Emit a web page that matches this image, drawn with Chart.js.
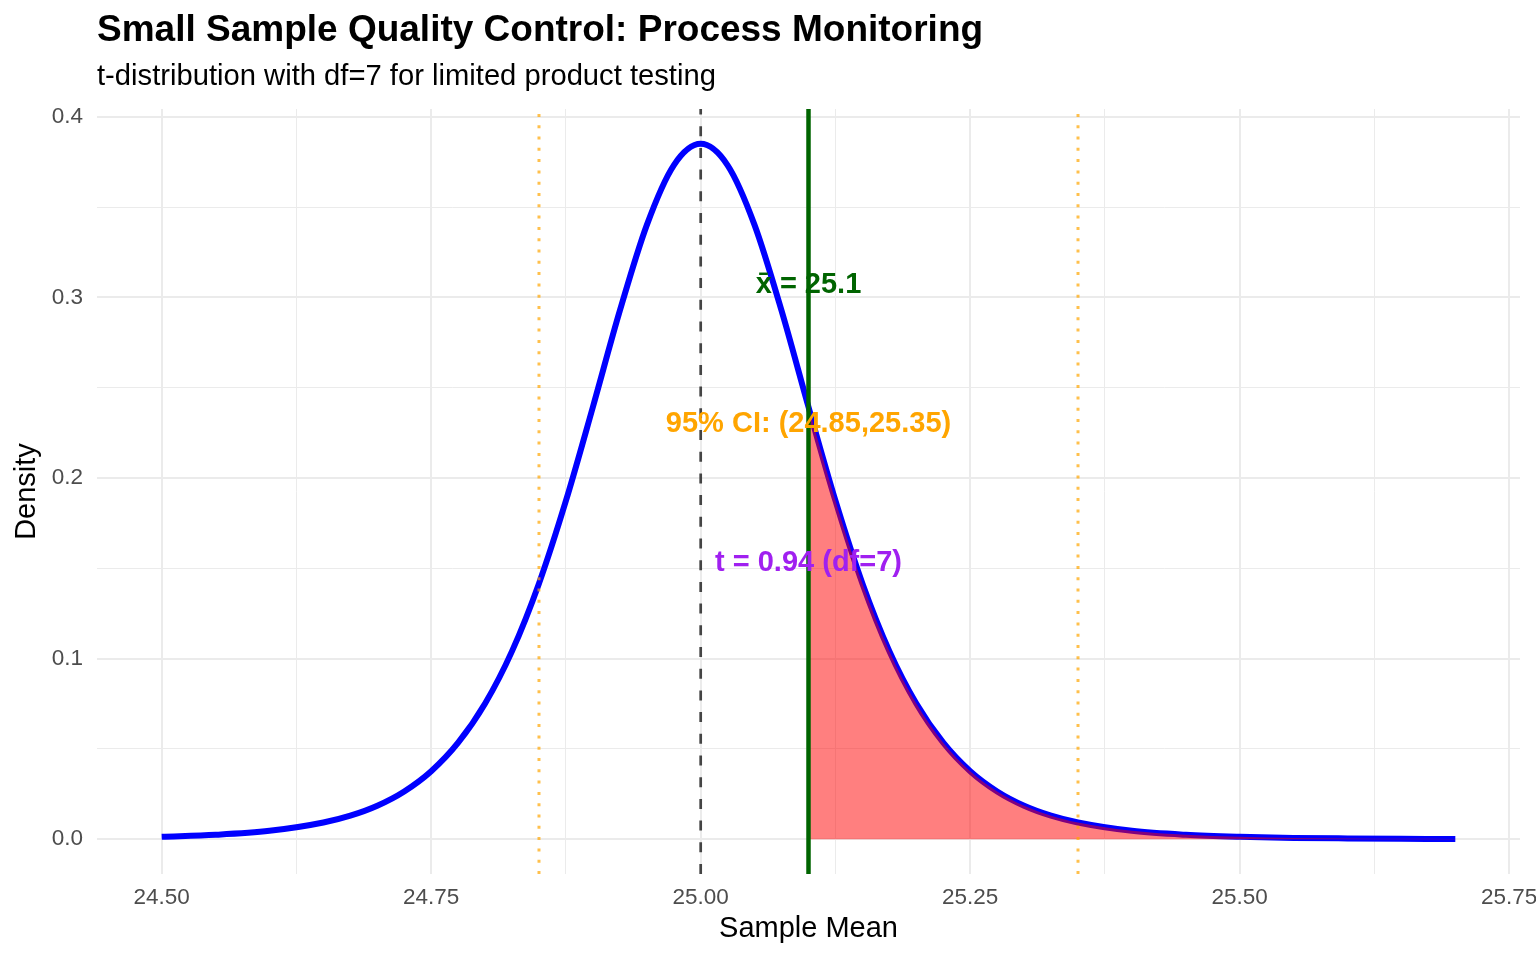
<!DOCTYPE html>
<html>
<head>
<meta charset="utf-8">
<script src="https://cdn.jsdelivr.net/npm/chart.js@4"></script>
<style>
  html, body { margin: 0; padding: 0; background: #ffffff; overflow: hidden; }
  #wrap { width: 1536px; height: 960px; position: relative; }
  canvas { display: block; }
</style>
</head>
<body>
<div id="wrap"><canvas id="c" width="1536" height="960"></canvas></div>
<script>
// ---------- DATA ----------
const chartTitle = "Small Sample Quality Control: Process Monitoring";
const chartSubtitle = "t-distribution with df=7 for limited product testing";
const xAxisTitle = "Sample Mean";
const yAxisTitle = "Density";

const sampleMeans = [24.50, 24.55, 24.60, 24.65, 24.675, 24.70, 24.725, 24.75, 24.775, 24.80,
  24.825, 24.85, 24.875, 24.90, 24.925, 24.95, 24.975, 25.00, 25.025, 25.05,
  25.075, 25.10, 25.125, 25.15, 25.175, 25.20, 25.225, 25.25, 25.275, 25.30,
  25.325, 25.35, 25.40, 25.45, 25.50, 25.55, 25.60, 25.65, 25.70];
const densities = [0.0013, 0.0024, 0.0046, 0.0092, 0.0130, 0.0185, 0.0264, 0.0376, 0.0534, 0.0751,
  0.1041, 0.1416, 0.1874, 0.2393, 0.2926, 0.3400, 0.3731, 0.3850, 0.3731, 0.3400,
  0.2926, 0.2393, 0.1874, 0.1416, 0.1041, 0.0751, 0.0534, 0.0376, 0.0264, 0.0185,
  0.0130, 0.0092, 0.0046, 0.0024, 0.0013, 0.0007, 0.0004, 0.0002, 0.0001];

const hypothesizedMean = 25.0;
const observedMean = 25.1;
const ciBounds = [24.85, 25.35];

const xMajorTicks = [24.50, 24.75, 25.00, 25.25, 25.50, 25.75];
const xMinorTicks = [24.625, 24.875, 25.125, 25.375, 25.625];
const yMajorTicks = [0.0, 0.1, 0.2, 0.3, 0.4];
const yMinorTicks = [0.05, 0.15, 0.25, 0.35];
const xRange = [24.44, 25.76];
const yRange = [-0.0193, 0.4043];

const annotationTexts = ["x\u0304 = 25.1", "95% CI: (24.85,25.35)", "t = 0.94 (df=7)"];
const annotationX = [25.1, 25.1, 25.1];
const annotationY = [0.308, 0.231, 0.154];
const annotationColors = ["#006400", "#FFA500", "#A020F0"];

// ---------- BUILD ----------
const FONT = "'Liberation Sans', Arial, Helvetica, sans-serif";
const curvePts = sampleMeans.map((x, i) => ({ x: x, y: densities[i] }));
const tailPts = curvePts.filter(p => p.x >= observedMean - 1e-9);
const vline = (x) => [{ x: x, y: yRange[0] }, { x: x, y: yRange[1] }];

const majorSetX = new Set(xMajorTicks.map(v => v.toFixed(3)));
const majorSetY = new Set(yMajorTicks.map(v => v.toFixed(3)));

const titlePlugin = {
  id: 'ggTitles',
  afterDraw(chart) {
    const ctx = chart.ctx;
    const left = chart.chartArea.left;
    ctx.save();
    ctx.fillStyle = '#000000';
    ctx.textAlign = 'left';
    ctx.textBaseline = 'alphabetic';
    ctx.font = "bold 37px " + FONT;
    ctx.fillText(chartTitle, left, 41);
    ctx.font = "29.2px " + FONT;
    ctx.fillText(chartSubtitle, left, 85);
    ctx.restore();
  }
};

const annotationPlugin = {
  id: 'ggText',
  afterDatasetsDraw(chart) {
    const ctx = chart.ctx;
    const xs = chart.scales.x, ys = chart.scales.y;
    ctx.save();
    ctx.textAlign = 'center';
    ctx.textBaseline = 'middle';
    ctx.font = "bold 29px " + FONT;
    annotationTexts.forEach((t, i) => {
      ctx.fillStyle = annotationColors[i];
      ctx.fillText(t, xs.getPixelForValue(annotationX[i]), ys.getPixelForValue(annotationY[i]) + 2);
    });
    ctx.restore();
  }
};

new Chart(document.getElementById('c'), {
  type: 'line',
  data: {
    datasets: [
      {
        label: 'density', data: curvePts, borderColor: '#0000FF', borderWidth: 6,
        pointRadius: 0, fill: false, cubicInterpolationMode: 'monotone', order: 6,
        borderCapStyle: 'butt'
      },
      {
        label: 'tail', data: tailPts, borderColor: 'rgba(0,0,0,0)', borderWidth: 0,
        backgroundColor: 'rgba(255,0,0,0.5)', pointRadius: 0, fill: 'origin',
        cubicInterpolationMode: 'monotone', order: 5
      },
      {
        label: 'h0', data: vline(hypothesizedMean), borderColor: '#444444', borderWidth: 2.7,
        borderDash: [10, 11.7], pointRadius: 0, fill: false, tension: 0, order: 4
      },
      {
        label: 'ciLow', data: vline(ciBounds[0]), borderColor: 'rgba(255,165,0,0.7)', borderWidth: 3,
        borderDash: [3, 8.3], pointRadius: 0, fill: false, tension: 0, order: 3
      },
      {
        label: 'ciHigh', data: vline(ciBounds[1]), borderColor: 'rgba(255,165,0,0.7)', borderWidth: 3,
        borderDash: [3, 8.3], pointRadius: 0, fill: false, tension: 0, order: 2
      },
      {
        label: 'xbar', data: vline(observedMean), borderColor: '#006400', borderWidth: 4.5,
        pointRadius: 0, fill: false, tension: 0, order: 1
      }
    ]
  },
  options: {
    responsive: false,
    animation: false,
    devicePixelRatio: 1,
    layout: { padding: { top: 109, left: 0, right: 16, bottom: 0 } },
    plugins: { legend: { display: false }, tooltip: { enabled: false }, title: { display: false } },
    scales: {
      x: {
        type: 'linear', min: xRange[0], max: xRange[1],
        afterBuildTicks(scale) {
          scale.ticks = xMajorTicks.concat(xMinorTicks).sort((a, b) => a - b).map(v => ({ value: v }));
        },
        afterFit(scale) { scale.height = 86; scale.paddingLeft = 0; scale.paddingRight = 0; },
        border: { display: false },
        grid: {
          drawTicks: false,
          color: ctx => '#EBEBEB',
          lineWidth: ctx => (ctx.tick && majorSetX.has(ctx.tick.value.toFixed(3))) ? 2 : 1
        },
        ticks: {
          autoSkip: false, maxRotation: 0, padding: 10, color: '#4D4D4D',
          font: { family: FONT, size: 22.5 },
          callback: function (v) { return majorSetX.has(Number(v).toFixed(3)) ? Number(v).toFixed(2) : ''; }
        },
        title: { display: true, text: xAxisTitle, color: '#000000', font: { family: FONT, size: 29 }, padding: { top: 0, bottom: 14 } }
      },
      y: {
        type: 'linear', min: yRange[0], max: yRange[1],
        afterBuildTicks(scale) {
          scale.ticks = yMajorTicks.concat(yMinorTicks).sort((a, b) => a - b).map(v => ({ value: v }));
        },
        afterFit(scale) { scale.width = 97; scale.paddingTop = 0; scale.paddingBottom = 0; },
        border: { display: false },
        grid: {
          drawTicks: false,
          color: ctx => '#EBEBEB',
          lineWidth: ctx => (ctx.tick && majorSetY.has(ctx.tick.value.toFixed(3))) ? 2 : 1
        },
        ticks: {
          autoSkip: false, padding: 14, color: '#4D4D4D',
          font: { family: FONT, size: 22.5 },
          callback: function (v) { return majorSetY.has(Number(v).toFixed(3)) ? Number(v).toFixed(1) : ''; }
        },
        title: { display: true, text: yAxisTitle, color: '#000000', font: { family: FONT, size: 29 }, padding: { top: 10, bottom: 0 } }
      }
    }
  },
  plugins: [titlePlugin, annotationPlugin]
});
</script>
</body>
</html>
